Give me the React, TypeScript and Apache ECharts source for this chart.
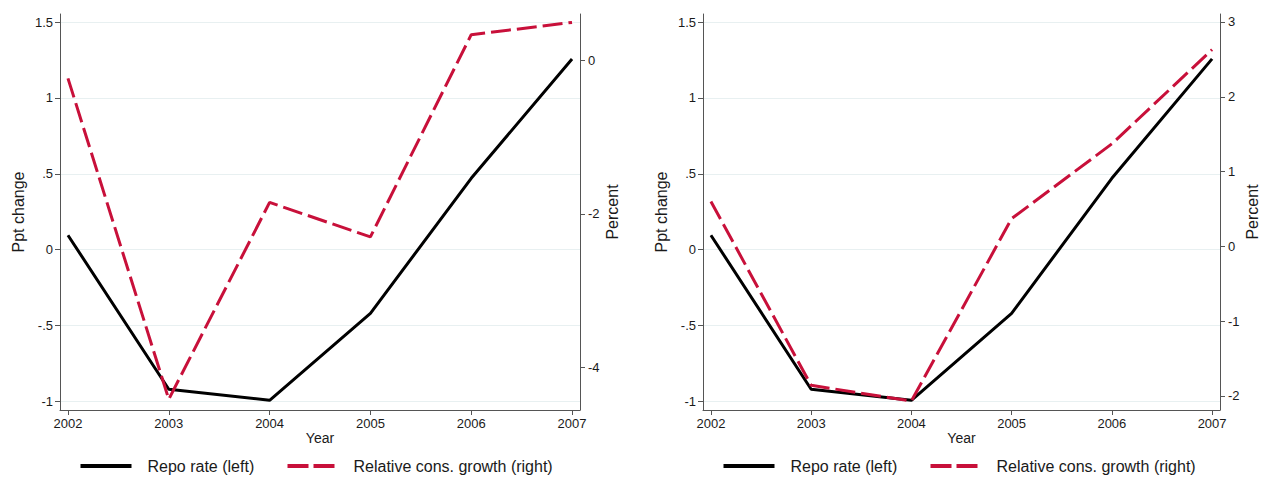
import React, { useEffect, useRef } from "react";
import * as echarts from "echarts";

// Years on the horizontal axis
const years = [2002, 2003, 2004, 2005, 2006, 2007];

// Repo rate, percentage-point change (left axis, both panels)
const repoRate = [0.095, -0.92, -0.993, -0.42, 0.47, 1.257];

// Relative consumption growth, percent (right axis)
const consGrowthLeftPanel = [-0.23, -4.42, -1.85, -2.3, 0.34, 0.5];
const consGrowthRightPanel = [0.6, -1.86, -2.07, 0.37, 1.37, 2.63];

// Tick values
const leftTicks = [-1, -0.5, 0, 0.5, 1, 1.5];
const rightTicksA = [-4, -2, 0];
const rightTicksB = [-2, -1, 0, 1, 2, 3];

const REPO_NAME = "Repo rate (left)";
const CONS_NAME = "Relative cons. growth (right)";

const FONT = '"Liberation Sans", Arial, Helvetica, sans-serif';
const AXIS_COLOR = "#555";
const TEXT_COLOR = "#1a1a1a";
const GRID_COLOR = "#e8f0f1";
const RED = "#c8103a";
const DASH = [20, 6];

const fmt = (v: number) => String(v).replace("0.", ".");

function xAxisFor(gridIndex: number) {
  return {
    type: "value",
    gridIndex,
    min: 2001.921,
    max: 2007.079,
    axisLine: { show: true, onZero: false, lineStyle: { color: AXIS_COLOR, width: 1 } },
    axisTick: { show: true, customValues: years, length: 5, lineStyle: { color: AXIS_COLOR } },
    axisLabel: {
      customValues: years,
      margin: 7,
      fontSize: 13,
      color: TEXT_COLOR,
      fontFamily: FONT,
      formatter: (v: number) => String(v),
    },
    splitLine: { show: false },
    name: "Year",
    nameLocation: "middle",
    nameGap: 21,
    nameMoveOverlap: false,
    nameTextStyle: { fontSize: 14, color: TEXT_COLOR, fontFamily: FONT },
  };
}

function leftYAxis(gridIndex: number) {
  return {
    type: "value",
    gridIndex,
    position: "left",
    min: -1.057,
    max: 1.553,
    axisLine: { show: true, onZero: false, lineStyle: { color: AXIS_COLOR, width: 1 } },
    axisTick: { show: true, customValues: leftTicks, length: 5, lineStyle: { color: AXIS_COLOR } },
    axisLabel: {
      customValues: leftTicks,
      margin: 7,
      fontSize: 13,
      color: TEXT_COLOR,
      fontFamily: FONT,
      formatter: fmt,
    },
    splitLine: { show: true, lineStyle: { color: GRID_COLOR, width: 1 } },
    name: "Ppt change",
    nameLocation: "middle",
    nameGap: 34,
    nameTextStyle: { fontSize: 16, color: TEXT_COLOR, fontFamily: FONT },
  };
}

function rightYAxis(gridIndex: number, min: number, max: number, ticks: number[]) {
  return {
    type: "value",
    gridIndex,
    position: "right",
    min,
    max,
    alignTicks: false,
    axisLine: { show: true, onZero: false, lineStyle: { color: AXIS_COLOR, width: 1 } },
    axisTick: { show: true, customValues: ticks, length: 5, lineStyle: { color: AXIS_COLOR } },
    axisLabel: {
      customValues: ticks,
      margin: 8,
      fontSize: 13,
      color: TEXT_COLOR,
      fontFamily: FONT,
      formatter: fmt,
    },
    splitLine: { show: false },
    name: "Percent",
    nameLocation: "middle",
    nameGap: 24,
    nameTextStyle: { fontSize: 16, color: TEXT_COLOR, fontFamily: FONT },
  };
}

const pairs = (vals: number[]) => years.map((y, i) => [y, vals[i]]);

// Key below each panel: a solid black sample, a dashed red sample and their labels
function legendGraphic(left: number) {
  const cy = 468;
  return {
    type: "group",
    left,
    top: cy - 10,
    children: [
      {
        type: "line",
        shape: { x1: 0, y1: 10, x2: 51, y2: 10 },
        style: { stroke: "#000", lineWidth: 4 },
      },
      {
        type: "text",
        x: 67,
        y: 10,
        style: {
          text: REPO_NAME,
          fontSize: 16,
          fontFamily: FONT,
          fill: TEXT_COLOR,
          verticalAlign: "middle",
          align: "left",
        },
      },
      {
        type: "line",
        shape: { x1: 207, y1: 10, x2: 254, y2: 10 },
        style: { stroke: RED, lineWidth: 4, lineDash: [21, 5] },
      },
      {
        type: "text",
        x: 273,
        y: 10,
        style: {
          text: CONS_NAME,
          fontSize: 16,
          fontFamily: FONT,
          fill: TEXT_COLOR,
          verticalAlign: "middle",
          align: "left",
        },
      },
    ],
  };
}

export default function App() {
  const ref = useRef<HTMLDivElement>(null);

  useEffect(() => {
    if (!ref.current) return;
    const chart = echarts.init(ref.current, undefined, { renderer: "svg" });
    chart.setOption({
      animation: false,
      backgroundColor: "#ffffff",
      textStyle: { fontFamily: FONT },
      grid: [
        { left: 60, top: 14, width: 520, height: 396, containLabel: false },
        { left: 703, top: 14, width: 520, height: 396, containLabel: false },
      ],
      xAxis: [xAxisFor(0), xAxisFor(1)],
      yAxis: [
        leftYAxis(0),
        rightYAxis(0, -4.56, 0.61, rightTicksA),
        leftYAxis(1),
        rightYAxis(1, -2.19, 3.107, rightTicksB),
      ],
      graphic: [legendGraphic(78), legendGraphic(721)],
      series: [
        {
          name: REPO_NAME,
          type: "line",
          xAxisIndex: 0,
          yAxisIndex: 0,
          data: pairs(repoRate),
          symbol: "none",
          lineStyle: { color: "#000", width: 3 },
          itemStyle: { color: "#000" },
        },
        {
          name: CONS_NAME,
          type: "line",
          xAxisIndex: 0,
          yAxisIndex: 1,
          data: pairs(consGrowthLeftPanel),
          symbol: "none",
          lineStyle: { color: RED, width: 3, type: DASH },
          itemStyle: { color: RED },
        },
        {
          name: REPO_NAME,
          type: "line",
          xAxisIndex: 1,
          yAxisIndex: 2,
          data: pairs(repoRate),
          symbol: "none",
          lineStyle: { color: "#000", width: 3 },
          itemStyle: { color: "#000" },
        },
        {
          name: CONS_NAME,
          type: "line",
          xAxisIndex: 1,
          yAxisIndex: 3,
          data: pairs(consGrowthRightPanel),
          symbol: "none",
          lineStyle: { color: RED, width: 3, type: DASH },
          itemStyle: { color: RED },
        },
      ],
    });
    return () => chart.dispose();
  }, []);

  return (
    <div
      ref={ref}
      style={{ position: "fixed", left: 0, top: 0, width: 1261, height: 479, background: "#fff" }}
    />
  );
}
